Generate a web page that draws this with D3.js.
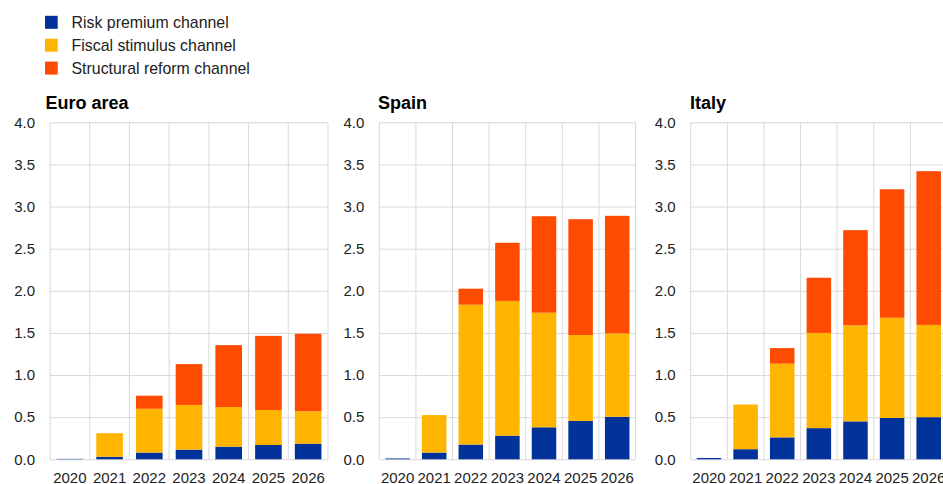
<!DOCTYPE html>
<html>
<head>
<meta charset="utf-8">
<script src="https://cdn.jsdelivr.net/npm/d3@7"></script>
<style>
  body { margin: 0; background: #fff; }
  svg { display: block; font-family: Arial, "Liberation Sans", sans-serif; }
  .grid line { stroke: #d9d9d9; stroke-width: 1; }
  .grid .domain { display: none; }
  .axis .domain { display: none; }
  .axis text { fill: #222; font-size: 15px; }
  .title { font-weight: bold; font-size: 18px; fill: #000; }
  .legend text { font-size: 15.9px; fill: #222; }
</style>
</head>
<body>
<svg id="chart" width="943" height="484"></svg>
<script>
// Years on the x axis (shared by all panels)
const years = ['2020', '2021', '2022', '2023', '2024', '2025', '2026'];
const panelNames = ['Euro area', 'Spain', 'Italy'];
const seriesNames = ['Risk premium channel', 'Fiscal stimulus channel', 'Structural reform channel'];
const yTicks = [0, 0.5, 1, 1.5, 2, 2.5, 3, 3.5, 4];

// Euro area
const euroRisk       = [0.005, 0.03, 0.08, 0.115, 0.15, 0.17, 0.185];
const euroFiscal     = [0, 0.28, 0.52, 0.53, 0.47, 0.415, 0.385];
const euroStructural = [0, 0, 0.155, 0.485, 0.735, 0.88, 0.92];

// Spain
const spainRisk       = [0.01, 0.08, 0.175, 0.28, 0.38, 0.455, 0.505];
const spainFiscal     = [0, 0.445, 1.66, 1.6, 1.36, 1.02, 0.99];
const spainStructural = [0, 0, 0.19, 0.69, 1.145, 1.375, 1.395];

// Italy
const italyRisk       = [0.015, 0.12, 0.26, 0.37, 0.45, 0.49, 0.5];
const italyFiscal     = [0, 0.53, 0.875, 1.13, 1.14, 1.19, 1.095];
const italyStructural = [0, 0, 0.185, 0.655, 1.13, 1.525, 1.825];

const colors = ['#003299', '#ffb400', '#ff4b00'];
const keys = ['risk', 'fiscal', 'structural'];

// Build one row-per-year table for each panel so d3.stack can use it
function buildRows(risk, fiscal, structural) {
  return years.map((year, i) => ({
    year: year,
    risk: risk[i],
    fiscal: fiscal[i],
    structural: structural[i]
  }));
}

const panelRows = [
  buildRows(euroRisk, euroFiscal, euroStructural),
  buildRows(spainRisk, spainFiscal, spainStructural),
  buildRows(italyRisk, italyFiscal, italyStructural)
];

// Pixel layout of each panel's plot area
const layout = [
  { left: 50, right: 328, titleX: 45.5 },
  { left: 379.3, right: 635.5, titleX: 378 },
  { left: 690.7, right: 947, titleX: 690 }
];
const plotTop = 122.3;
const plotBottom = 459.3;

const svg = d3.select('#chart');

const y = d3.scaleLinear()
  .domain([0, 4])
  .range([plotBottom, plotTop]);

const stack = d3.stack().keys(keys);

panelRows.forEach((rows, p) => {
  const box = layout[p];
  const g = svg.append('g').attr('class', 'panel');

  const x = d3.scaleBand()
    .domain(years)
    .range([box.left, box.right])
    .paddingInner(0.33)
    .paddingOuter(0.165);

  const step = x.step();

  // Horizontal grid lines
  g.append('g')
    .attr('class', 'grid')
    .attr('transform', `translate(${box.left},0)`)
    .call(d3.axisLeft(y)
      .tickValues(yTicks)
      .tickSize(-(box.right - box.left))
      .tickFormat(''));

  // Vertical grid lines between the year bands, plus both plot edges
  const bounds = years.map((d) => x(d) + x.bandwidth() / 2 - step / 2);
  bounds.push(box.right);
  g.append('g')
    .attr('class', 'grid')
    .selectAll('line')
    .data(bounds)
    .join('line')
      .attr('x1', (d) => d)
      .attr('x2', (d) => d)
      .attr('y1', plotTop)
      .attr('y2', plotBottom);

  // Stacked bars
  g.append('g')
    .selectAll('g')
    .data(stack(rows))
    .join('g')
      .attr('fill', (d, i) => colors[i])
    .selectAll('rect')
    .data((d) => d)
    .join('rect')
      .attr('x', (d) => x(d.data.year))
      .attr('width', x.bandwidth())
      .attr('y', (d) => y(d[1]))
      .attr('height', (d) => Math.max(0, y(d[0]) - y(d[1])));

  // Y axis labels
  g.append('g')
    .attr('class', 'axis')
    .attr('transform', `translate(${box.left},0)`)
    .call(d3.axisLeft(y)
      .tickValues(yTicks)
      .tickSize(0)
      .tickPadding(15)
      .tickFormat(d3.format('.1f')));

  // X axis labels (sit right at the bottom edge, as in the original)
  g.append('g')
    .attr('class', 'axis')
    .attr('transform', `translate(0,${plotBottom})`)
    .call(d3.axisBottom(x)
      .tickSize(0)
      .tickPadding(13.5));

  // Panel title
  g.append('text')
    .attr('class', 'title')
    .attr('x', box.titleX)
    .attr('y', 108.5)
    .text(panelNames[p]);
});

// Legend
const legend = svg.append('g').attr('class', 'legend');
const legendRows = legend.selectAll('g')
  .data(seriesNames)
  .join('g')
    .attr('transform', (d, i) => `translate(45,${28.3 + i * 22.9})`);

legendRows.append('rect')
  .attr('x', 0)
  .attr('y', -12.5)
  .attr('width', 12.7)
  .attr('height', 13)
  .attr('fill', (d, i) => colors[i]);

legendRows.append('text')
  .attr('x', 26.5)
  .attr('y', 0)
  .text((d) => d);
</script>
</body>
</html>
